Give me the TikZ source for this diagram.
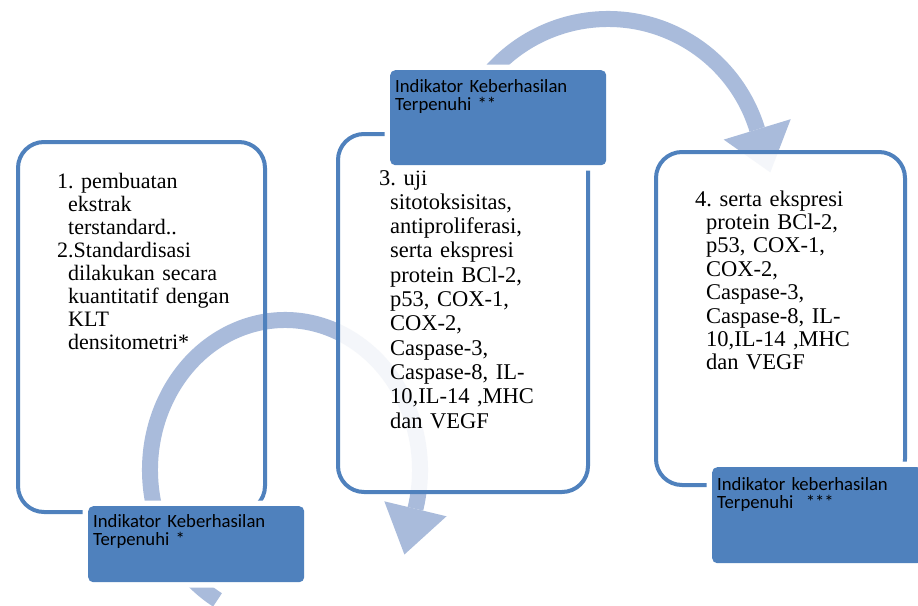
\documentclass[tikz,border=0pt]{standalone}
\usepackage{fontspec}
\setmainfont{Liberation Serif}
\newfontfamily\indfont{Carlito}
\definecolor{accent}{HTML}{4F81BD}
\definecolor{arrowtint}{RGB}{169,187,219}
\newcommand\hgap{\hspace*{11pt}}
\frenchspacing

\begin{document}
\begin{tikzpicture}[x=1pt,y=1pt,
  mainbox/.style={rectangle, rounded corners=26pt, draw=accent, line width=4pt,
    anchor=north west, inner sep=0pt},
  veil/.style={fill=white, fill opacity=0.88},
  indbox/.style={rectangle, rounded corners=5pt, fill=accent, anchor=north west,
    inner sep=0pt, preaction={draw=white, line width=11pt}},
  body/.style={anchor=base west, text width=240pt, align=left, inner sep=0pt},
  indtext/.style={anchor=base west, text width=210pt, align=left, inner sep=0pt,
    font=\indfont\fontsize{18.7}{18.5}\selectfont, text=black},
  band/.style={draw=arrowtint, line width=16pt},
  head/.style={fill=arrowtint},
]
\useasboundingbox (0,0) rectangle (918,-605);
\fill[white] (0,0) rectangle (918,-605);
\clip (0,0) rectangle (918,-605);

% circular arrows behind the step boxes
\coordinate (c1) at (285,-470);
\coordinate (c2) at (608,-175);
\draw[band] (c1) ++(240:135 and 150) arc[start angle=240, end angle=-15, x radius=135, y radius=150]
  coordinate (a1end);
\fill[head] (446.5,-516.3) -- (404.4,-554.5) -- (384.3,-501.3) -- cycle;
\draw[band] (c2) ++(150:156) arc[start angle=150, end angle=17, radius=156]
  coordinate (a2end);
\fill[head] (790.7,-119.2) -- (770.3,-172.4) -- (723.7,-139.6) -- cycle;

% step boxes
\node[mainbox, minimum width=247pt, minimum height=370pt] (b1) at (16,-140) {};
\node[mainbox, veil, minimum width=250pt, minimum height=358pt] (b2) at (336,-132) {};
\node[mainbox, veil, minimum width=249pt, minimum height=333pt] (b3) at (654,-150) {};

\node[body, font=\fontsize{22}{23}\selectfont] (t1) at (57,-188)
  {1. pembuatan\\\hgap ekstrak\\\hgap terstandard..\\2.Standardisasi\\\hgap dilakukan secara\\\hgap kuantitatif dengan\\\hgap KLT\\\hgap densitometri*};
\node[body, font=\fontsize{22.5}{24.3}\selectfont] (t2) at (379,-185)
  {3. uji\\\hgap sitotoksisitas,\\\hgap antiproliferasi,\\\hgap serta ekspresi\\\hgap protein BCl-2,\\\hgap p53, COX-1,\\\hgap COX-2,\\\hgap Caspase-3,\\\hgap Caspase-8, IL-\\\hgap 10,IL-14 ,MHC\\\hgap dan VEGF};
\node[body, font=\fontsize{22.5}{23.4}\selectfont] (t3) at (695,-206)
  {4. serta ekspresi\\\hgap protein BCl-2,\\\hgap p53, COX-1,\\\hgap COX-2,\\\hgap Caspase-3,\\\hgap Caspase-8, IL-\\\hgap 10,IL-14 ,MHC\\\hgap dan VEGF};

% success indicators
\node[indbox, minimum width=216pt, minimum height=76pt] (i1) at (88,-506) {};
\node[indbox, minimum width=216pt, minimum height=95pt] (i2) at (390,-70) {};
\node[indbox, minimum width=210pt, minimum height=96pt] (i3) at (712,-467) {};

\node[indtext] (i1t) at (93,-527) {Indikator Keberhasilan\\Terpenuhi *};
\node[indtext] (i2t) at (395,-92) {Indikator Keberhasilan\\Terpenuhi **};
\node[indtext] (i3t) at (717,-490) {Indikator keberhasilan\\Terpenuhi\ \ ***};
\end{tikzpicture}
\end{document}
